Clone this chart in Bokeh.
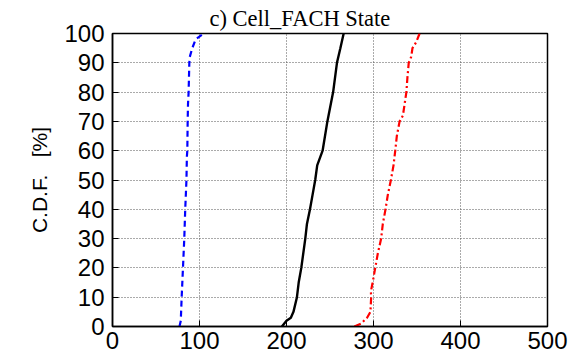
from bokeh.plotting import figure
from bokeh.embed import file_html
from bokeh.resources import INLINE
from bokeh.models import FixedTicker, Range1d

# CDF levels [%]
blue_cdf = [0, 2, 10, 20, 30, 40, 50, 58, 60, 70, 76, 80, 90, 92, 95, 98, 100]
blue_x = [77, 78.5, 79.5, 81, 82.5, 83.6, 85, 85.5, 86, 86.4, 86.8, 87.5, 88.3, 88.8, 91.7, 95.6, 105]

black_cdf = [0, 2, 3, 5, 10, 15, 20, 30, 35, 40, 45, 50, 55, 60, 70, 80, 90, 95, 100]
black_x = [194.7, 200, 205, 208, 212, 214, 217, 221.6, 223.5, 227, 230, 233, 235.3, 241.5, 247, 253.6, 258, 261.9, 265.7]

red_cdf = [0, 1, 3, 5, 10, 12, 15, 20, 25, 30, 35, 40, 45, 50, 55, 60, 65, 70, 72, 80, 85, 90, 92, 95, 97, 100]
red_x = [278, 285.7, 292.6, 296.5, 297.3, 297, 299, 302, 305, 308.8, 310.7, 313.8, 316.5, 320, 323, 325, 326.8, 330, 333.8, 337.8, 339, 340.5, 343.3, 344.8, 349, 353]

x_ticks = [0, 100, 200, 300, 400, 500]
y_ticks = [0, 10, 20, 30, 40, 50, 60, 70, 80, 90, 100]

p = figure(width=577, height=361, output_backend="svg", toolbar_location=None,
           x_range=Range1d(0, 500), y_range=Range1d(0, 100),
           min_border_left=112, min_border_right=30, min_border_top=33, min_border_bottom=35,
           title="c) Cell_FACH State")

p.title.text_font = "Liberation Serif"
p.title.text_font_size = "22.5px"
p.title.text_font_style = "normal"
p.title.text_color = "black"
p.title.align = "left"
p.title.offset = 97
p.title.standoff = 5

p.line(blue_x, blue_cdf, line_color="#0000ff", line_width=2.2, line_dash="6 4")
p.line(black_x, black_cdf, line_color="black", line_width=2.4)
p.line(red_x, red_cdf, line_color="#ff0000", line_width=2.2, line_dash="7 3 2 3")

for ax in (p.xaxis, p.yaxis):
    ax.major_label_text_font = "Liberation Sans"
    ax.major_label_text_font_size = "24px"
    ax.major_label_text_color = "black"
    ax.major_tick_in = 6
    ax.major_tick_out = 0
    ax.minor_tick_in = 0
    ax.minor_tick_out = 0
    ax.axis_line_width = 1.5
    ax.major_tick_line_width = 1

p.xaxis.ticker = FixedTicker(ticks=x_ticks)
p.yaxis.ticker = FixedTicker(ticks=y_ticks)
p.xaxis.major_label_standoff = 5
p.yaxis.major_label_standoff = 8

p.yaxis.axis_label = "C.D.F.\u00a0\u00a0\u00a0[%]"
p.yaxis.axis_label_text_font = "Liberation Sans"
p.yaxis.axis_label_text_font_size = "21px"
p.yaxis.axis_label_text_font_style = "normal"
p.yaxis.axis_label_text_color = "black"
p.yaxis.axis_label_standoff = 10

p.grid.grid_line_color = "#555555"
p.grid.grid_line_dash = "1 2"
p.grid.grid_line_width = 1
p.xgrid.ticker = FixedTicker(ticks=x_ticks)
p.ygrid.ticker = FixedTicker(ticks=y_ticks)

p.outline_line_color = "black"
p.outline_line_width = 1.5
p.outline_line_alpha = 1
p.background_fill_color = "white"
p.border_fill_color = "white"

open("out.html", "w").write(file_html(p, INLINE))
